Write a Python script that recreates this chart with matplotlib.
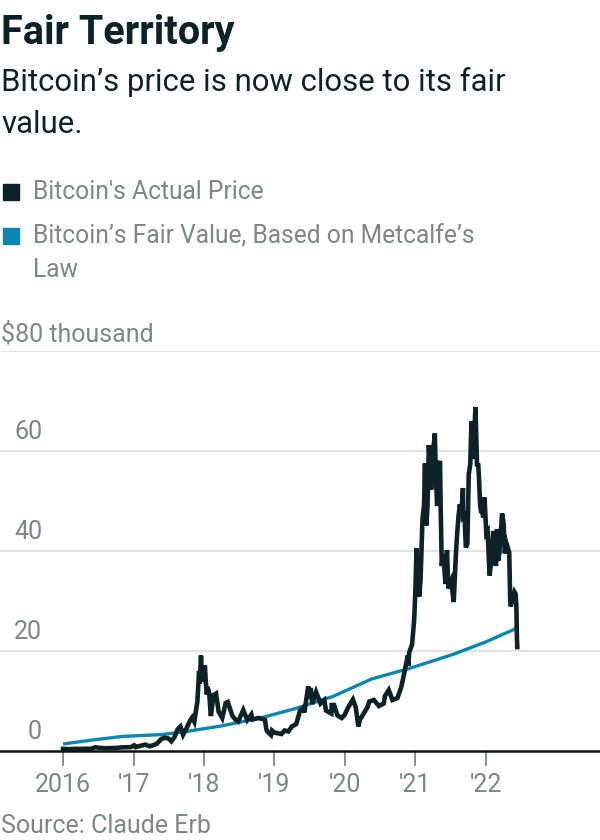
import pandas as pd
import matplotlib
matplotlib.use('Agg')
import matplotlib.pyplot as plt
from matplotlib.patches import Rectangle
import matplotlib.transforms as mtransforms

# Bitcoin actual price, thousands of USD
price_dates = [
    '2016-01-01', '2016-02-01', '2016-03-01', '2016-04-01', '2016-05-01', '2016-05-25',
    '2016-06-17', '2016-07-01', '2016-08-02', '2016-09-01', '2016-10-01', '2016-11-01',
    '2016-12-01', '2016-12-20', '2017-01-04', '2017-01-12', '2017-02-01', '2017-03-03',
    '2017-03-25', '2017-04-15', '2017-05-01', '2017-05-25', '2017-06-12', '2017-07-01',
    '2017-07-16', '2017-08-01', '2017-08-17', '2017-09-01', '2017-09-15', '2017-10-01',
    '2017-10-20', '2017-11-01', '2017-11-12', '2017-11-28', '2017-12-07', '2017-12-10',
    '2017-12-17', '2017-12-22', '2017-12-25', '2017-12-31', '2018-01-06', '2018-01-10',
    '2018-01-16', '2018-01-20', '2018-01-28', '2018-02-06', '2018-02-20', '2018-03-05',
    '2018-03-18', '2018-04-06', '2018-04-24', '2018-05-05', '2018-05-28', '2018-06-13',
    '2018-06-28', '2018-07-24', '2018-08-14', '2018-09-04', '2018-09-10', '2018-10-10',
    '2018-11-01', '2018-11-14', '2018-11-20', '2018-11-25', '2018-12-15', '2018-12-20',
    '2019-01-01', '2019-02-07', '2019-02-24', '2019-03-15', '2019-04-02', '2019-04-25',
    '2019-05-14', '2019-05-30', '2019-06-06', '2019-06-26', '2019-07-02', '2019-07-09',
    '2019-07-17', '2019-08-06', '2019-08-29', '2019-09-18', '2019-09-26', '2019-10-24',
    '2019-10-26', '2019-11-07', '2019-11-25', '2019-12-17', '2020-01-01', '2020-01-19',
    '2020-02-13', '2020-02-28', '2020-03-12', '2020-03-20', '2020-04-06', '2020-04-29',
    '2020-05-08', '2020-06-01', '2020-06-27', '2020-07-22', '2020-07-28', '2020-08-17',
    '2020-09-05', '2020-10-01', '2020-10-21', '2020-11-05', '2020-11-24', '2020-11-26',
    '2020-12-01', '2020-12-16', '2020-12-27', '2021-01-03', '2021-01-08', '2021-01-11',
    '2021-01-14', '2021-01-22', '2021-01-29', '2021-02-08', '2021-02-12', '2021-02-16',
    '2021-02-21', '2021-02-24', '2021-02-28', '2021-03-06', '2021-03-13', '2021-03-18',
    '2021-03-25', '2021-04-02', '2021-04-13', '2021-04-18', '2021-04-25', '2021-05-03',
    '2021-05-10', '2021-05-13', '2021-05-19', '2021-05-26', '2021-06-08', '2021-06-15',
    '2021-06-22', '2021-07-07', '2021-07-20', '2021-08-01', '2021-08-07', '2021-08-14',
    '2021-08-21', '2021-08-28', '2021-09-06', '2021-09-07', '2021-09-14', '2021-09-21',
    '2021-09-29', '2021-10-06', '2021-10-14', '2021-10-20', '2021-10-27', '2021-11-03',
    '2021-11-10', '2021-11-18', '2021-11-24', '2021-11-28', '2021-12-04', '2021-12-10',
    '2021-12-14', '2021-12-20', '2021-12-27', '2022-01-05', '2022-01-12', '2022-01-22',
    '2022-02-01', '2022-02-10', '2022-02-17', '2022-02-24', '2022-03-02', '2022-03-07',
    '2022-03-14', '2022-03-28', '2022-04-05', '2022-04-11', '2022-04-20', '2022-05-04',
    '2022-05-09', '2022-05-12', '2022-05-20', '2022-05-31', '2022-06-06', '2022-06-10',
    '2022-06-13', '2022-06-15',
]
price_values = [
    0.43, 0.37, 0.43, 0.42, 0.45, 0.45,
    0.75, 0.67, 0.55, 0.57, 0.61, 0.73,
    0.75, 0.79, 1.13, 0.78, 0.99, 1.28,
    0.93, 1.18, 1.42, 2.40, 2.65, 2.50,
    1.93, 2.75, 4.30, 4.90, 3.25, 4.40,
    5.99, 6.70, 5.85, 9.90, 16.0, 13.5,
    19.1, 13.8, 15.6, 13.9, 17.1, 14.2,
    11.3, 12.8, 11.7, 7.0, 11.2, 11.5,
    7.9, 6.6, 9.6, 9.8, 7.1, 6.3,
    5.9, 8.2, 6.2, 7.3, 6.3, 6.6,
    6.4, 6.2, 4.5, 3.9, 3.2, 4.1,
    3.7, 3.4, 4.1, 3.9, 4.9, 5.4,
    8.0, 8.6, 7.7, 12.9, 10.6, 12.6,
    9.4, 11.8, 9.5, 10.2, 8.1, 7.5,
    9.2, 9.2, 7.1, 6.6, 7.2, 8.7,
    10.3, 8.7, 4.9, 6.2, 7.3, 8.8,
    9.9, 10.2, 9.0, 9.5, 11.0, 12.2,
    10.2, 10.6, 12.8, 15.5, 19.1, 17.0,
    19.7, 21.3, 26.3, 33.0, 40.6, 33.5,
    39.0, 30.9, 34.3, 46.4, 47.8, 49.1,
    57.5, 49.5, 45.1, 48.9, 61.2, 57.8,
    52.3, 59.0, 63.5, 55.5, 49.0, 57.2,
    58.0, 49.7, 37.0, 39.3, 33.4, 40.2,
    32.5, 34.0, 29.8, 39.8, 43.5, 47.0,
    49.3, 46.9, 52.6, 46.8, 47.1, 40.7,
    41.5, 55.3, 57.4, 65.9, 58.4, 62.9,
    68.8, 56.9, 57.5, 54.7, 49.2, 47.6,
    48.4, 46.7, 50.7, 43.5, 43.9, 35.1,
    38.5, 44.0, 40.6, 37.0, 44.4, 38.0,
    39.7, 47.5, 45.5, 39.5, 41.5, 39.7,
    30.3, 28.9, 30.3, 31.8, 31.4, 29.1,
    22.5, 20.8,
]

# Fair value based on Metcalfe's law, thousands of USD
fair_dates = [
    '2016-01-01', '2016-06-01', '2016-11-01', '2017-06-01', '2017-10-01', '2018-04-01',
    '2018-11-01', '2019-05-01', '2019-11-01', '2020-05-20', '2020-12-01', '2021-07-15',
    '2022-01-01', '2022-06-15',
]
fair_values = [
    1.4, 2.2, 2.9, 3.3, 3.9, 5.0,
    6.7, 8.6, 10.9, 14.4, 16.5, 19.3,
    21.8, 24.6,
]

y_ticks = [0, 20, 40, 60, 80]
x_tick_dates = ['2016-01-01', '2017-01-01', '2018-01-01', '2019-01-01',
                '2020-01-01', '2021-01-01', '2022-01-01']
x_tick_labels = ['2016', "'17", "'18", "'19", "'20", "'21", "'22"]
series_labels = ["Bitcoin's Actual Price",
                 ["Bitcoin\u2019s Fair Value, Based on Metcalfe\u2019s", "Law"]]

DARK = '#0b2226'
BLUE = '#0a86b6'
GRAY = '#7c8886'
GRID = '#e3e3e3'
FONT = 'Roboto'

W, H = 600, 840


def fx(px):
    return px / W


def fy(py):
    return 1 - py / H


fig = plt.figure(figsize=(6, 8.4), dpi=100)

# headline block
fig.text(fx(1), fy(44), 'Fair Territory', fontsize=28.5, fontweight='bold',
         family=FONT, color=DARK, va='baseline')
fig.text(fx(1), fy(91), 'Bitcoin\u2019s price is now close to its fair',
         fontsize=22.4, family=FONT, color=DARK, va='baseline')
fig.text(fx(1), fy(133), 'value.', fontsize=22.4, family=FONT, color=DARK,
         va='baseline')

# legend
fig.patches.append(Rectangle((fx(3), fy(200)), fx(16), 16 / H,
                             transform=fig.transFigure, color=DARK))
fig.text(fx(33), fy(199), series_labels[0], fontsize=17.7, family=FONT,
         color=GRAY, va='baseline')
fig.patches.append(Rectangle((fx(3), fy(244)), fx(16), 16 / H,
                             transform=fig.transFigure, color=BLUE))
fig.text(fx(33), fy(243), series_labels[1][0], fontsize=17.7, family=FONT,
         color=GRAY, va='baseline')
fig.text(fx(33), fy(277), series_labels[1][1], fontsize=17.7, family=FONT,
         color=GRAY, va='baseline')

# plot area
ax = fig.add_axes([0, (H - 751) / H, 1, 400 / H])
start = pd.Timestamp('2016-01-01')
ax.set_xlim(start - pd.Timedelta(days=327), start + pd.Timedelta(days=2786))
ax.set_ylim(0, 80)

for s in ax.spines.values():
    s.set_visible(False)
ax.set_xticks([])
ax.set_yticks([])

for v in y_ticks[1:]:
    ax.axhline(v, color=GRID, lw=1.6, zorder=0)
ax.axhline(0, color='#111111', lw=1.8, zorder=3, clip_on=False)

ax.plot(pd.to_datetime(fair_dates), fair_values, color=BLUE, lw=2.4, zorder=2,
        solid_capstyle='butt')
ax.plot(pd.to_datetime(price_dates), price_values, color=DARK, lw=3.3, zorder=2,
        solid_joinstyle='miter')

# y labels sit above the gridlines
lab_tr = mtransforms.offset_copy(ax.transData, fig=fig, x=0, y=12, units='dots')
lab_tr = mtransforms.blended_transform_factory(ax.transAxes, lab_tr)
for v in y_ticks[:-1]:
    ax.text(fx(42), v, str(v), transform=lab_tr, ha='right', va='baseline',
            fontsize=18, family=FONT, color=GRAY)
top_tr = mtransforms.offset_copy(ax.transData, fig=fig, x=0, y=10, units='dots')
top_tr = mtransforms.blended_transform_factory(ax.transAxes, top_tr)
ax.text(fx(1), y_ticks[-1], '$80 thousand', transform=top_tr, ha='left',
        va='baseline', fontsize=18, family=FONT, color=GRAY)

# x ticks below the baseline
for d, lab in zip(pd.to_datetime(x_tick_dates), x_tick_labels):
    ax.plot([d, d], [0, -14 / 5], color=GRAY, lw=1.3, clip_on=False, zorder=1)
    ax.text(d, -41 / 5, lab, ha='center', va='baseline', fontsize=18,
            family=FONT, color=GRAY, clip_on=False)

fig.text(fx(1), fy(833), 'Source: Claude Erb', fontsize=18, family=FONT,
         color=GRAY, va='baseline')

fig.savefig('out.png', dpi=100)
